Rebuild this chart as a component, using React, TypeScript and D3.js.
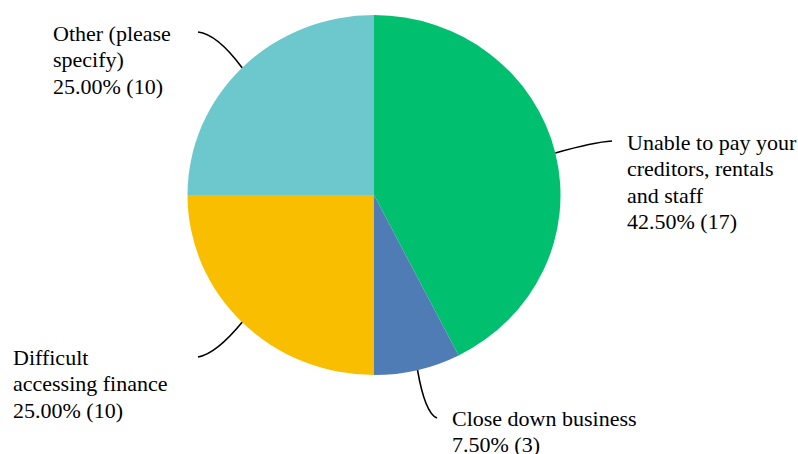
import React from "react";
import * as d3 from "d3";

const categories = [
  "Unable to pay your creditors, rentals and staff",
  "Close down business",
  "Difficult accessing finance",
  "Other (please specify)",
];
const counts = [17, 3, 10, 10];
const percents = ["42.50%", "7.50%", "25.00%", "25.00%"];
const labelLines = [
  ["Unable to pay your", "creditors, rentals", "and staff"],
  ["Close down business"],
  ["Difficult", "accessing finance"],
  ["Other (please", "specify)"],
];
const colors = ["#00BF6F", "#507CB6", "#F9BE00", "#6CC8CC"];

// layout
const W = 798;
const H = 454;
const cx = 374;
const cy = 195;
const ry = 180;
const rx = 186.5;
const labelPos = [
  { x: 627, y: 150 },
  { x: 452, y: 426 },
  { x: 13, y: 365 },
  { x: 53, y: 41 },
];
const leaderEnd = [
  { x: 612, y: 141, cx: 594, cy: 142 },
  { x: 437, y: 418, cx: 425, cy: 413 },
  { x: 198, y: 357, cx: 216, cy: 354 },
  { x: 198, y: 32, cx: 217, cy: 34 },
];
const lineH = 26.3;
const FONT = "Liberation Serif, Times New Roman, serif";

export default function App() {
  const pie = d3.pie<number>().sort(null).value((d) => d);
  const arcs = pie(counts);
  const arc = d3.arc<d3.PieArcDatum<number>>().innerRadius(0).outerRadius(ry);

  return (
    <svg
      width={W}
      height={H}
      style={{ position: "absolute", left: 0, top: 0, background: "#fff" }}
    >
      <g transform={`translate(${cx},${cy}) scale(${rx / ry},1)`}>
        {arcs.map((a, i) => (
          <path key={i} d={arc(a) || ""} fill={colors[i]} />
        ))}
      </g>
      {arcs.map((a, i) => {
        const m = (a.startAngle + a.endAngle) / 2;
        const ex = cx + rx * Math.sin(m);
        const ey = cy - ry * Math.cos(m);
        const le = leaderEnd[i];
        return (
          <path
            key={"l" + i}
            d={`M${le.x},${le.y}Q${le.cx},${le.cy} ${ex},${ey}`}
            fill="none"
            stroke="#000"
            strokeWidth={1.6}
          />
        );
      })}
      {categories.map((c, i) => {
        const lines = [...labelLines[i], `${percents[i]} (${counts[i]})`];
        return (
          <text
            key={"t" + i}
            fill="#000"
            aria-label={c}
            style={{ fontFamily: FONT, fontSize: "22px" }}
          >
            {lines.map((ln, j) => (
              <tspan key={j} x={labelPos[i].x} y={labelPos[i].y + j * lineH}>
                {ln}
              </tspan>
            ))}
          </text>
        );
      })}
    </svg>
  );
}
